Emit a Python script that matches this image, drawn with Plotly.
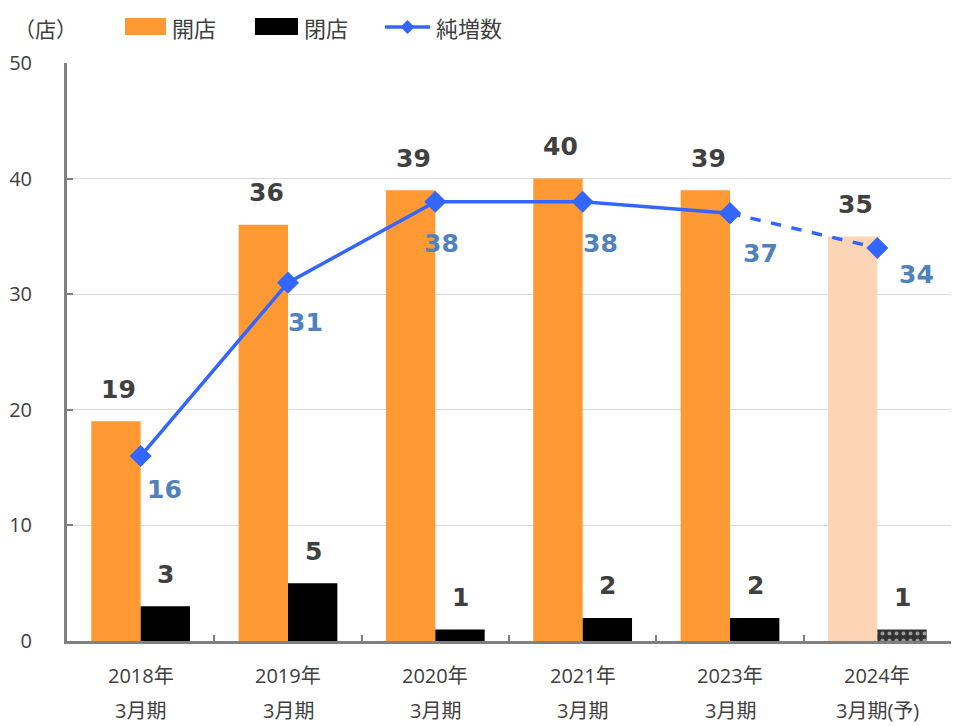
import plotly.graph_objects as go

categories = ["2018年3月期", "2019年3月期", "2020年3月期", "2021年3月期", "2023年3月期", "2024年3月期(予)"]
tick_line1 = ["2018年", "2019年", "2020年", "2021年", "2023年", "2024年"]
tick_line2 = ["3月期", "3月期", "3月期", "3月期", "3月期", "3月期(予)"]
openings = [19, 36, 39, 40, 39, 35]
closings = [3, 5, 1, 2, 2, 1]
net_increase = [16, 31, 38, 38, 37, 34]
forecast_flag = [False, False, False, False, False, True]
unit_label = "（店）"
legend_names = ["開店", "閉店", "純増数"]

# label offsets (styling) for net-increase labels, in px
net_dx = [24, 17, 6, 18, 30, 39]
net_dy = [-33, -40, -42, -42, -40, -27]

ORANGE = "#FF9933"
ORANGE_LIGHT = "#FBD5B5"
BLUE = "#3366FF"
BLUE_TXT = "#4F81BD"
DARK = "#404040"
BOLD_FONT = "DejaVu Sans, Noto Sans CJK JP, sans-serif"
TICK_FONT = "Open Sans, Noto Sans CJK JP, sans-serif"
CJK = "Noto Sans CJK JP, Open Sans, sans-serif"

W, H = 953, 726
ML, MR, MT, MB = 67, 2, 63, 85


def px_x(p):
    return (p - ML) / (W - ML - MR)


def px_y(p):
    return 1 - (p - MT) / (H - MT - MB)


fig = go.Figure()

fig.add_trace(go.Bar(
    x=categories, y=openings, name=legend_names[0],
    marker=dict(color=[ORANGE_LIGHT if f else ORANGE for f in forecast_flag], line=dict(width=0)),
    showlegend=False,
))
fig.add_trace(go.Bar(
    x=categories, y=closings, name=legend_names[1],
    marker=dict(
        color=["#333333" if f else "#000000" for f in forecast_flag],
        line=dict(width=0),
        pattern=dict(shape=["." if f else "" for f in forecast_flag],
                     fgcolor="white", bgcolor="#333333", size=7, solidity=0.25,
                     fillmode="overlay"),
    ),
    showlegend=False,
))

actual_idx = [i for i, f in enumerate(forecast_flag) if not f]
last_actual = actual_idx[-1]
fig.add_trace(go.Scatter(
    x=categories[:last_actual + 1], y=net_increase[:last_actual + 1], mode="lines+markers",
    name=legend_names[2],
    line=dict(color=BLUE, width=3.5),
    marker=dict(symbol="diamond", size=17, color=BLUE),
    showlegend=False, cliponaxis=False,
))
fig.add_trace(go.Scatter(
    x=categories[last_actual:], y=net_increase[last_actual:], mode="lines+markers",
    line=dict(color=BLUE, width=3.5, dash="dash"),
    marker=dict(symbol="diamond", size=17, color=BLUE),
    showlegend=False, cliponaxis=False,
))

annotations = []
for i, c in enumerate(categories):
    annotations.append(dict(x=c, y=openings[i], xref="x", yref="y", text=str(openings[i]),
                            showarrow=False, xshift=-22, yshift=32, yanchor="middle",
                            font=dict(family=BOLD_FONT, size=25, color=DARK, weight="bold")))
    annotations.append(dict(x=c, y=closings[i], xref="x", yref="y", text=str(closings[i]),
                            showarrow=False, xshift=25, yshift=32, yanchor="middle",
                            font=dict(family=BOLD_FONT, size=25, color=DARK, weight="bold")))
    annotations.append(dict(x=c, y=net_increase[i], xref="x", yref="y", text=str(net_increase[i]),
                            showarrow=False, xshift=net_dx[i], yshift=net_dy[i], yanchor="middle",
                            font=dict(family=BOLD_FONT, size=25, color=BLUE_TXT, weight="bold")))
    annotations.append(dict(x=c, y=0, xref="x", yref="paper", text=tick_line1[i],
                            showarrow=False, yshift=-34, yanchor="middle",
                            font=dict(family=TICK_FONT, size=20, color=DARK)))
    annotations.append(dict(x=c, y=0, xref="x", yref="paper", text=tick_line2[i],
                            showarrow=False, yshift=-69, yanchor="middle",
                            font=dict(family=TICK_FONT, size=20, color=DARK)))

annotations.append(dict(x=px_x(45), y=px_y(28), xref="paper", yref="paper", text=unit_label,
                        showarrow=False, xanchor="center", yanchor="middle",
                        font=dict(family=CJK, size=21, color=DARK)))

legend_geom = [("rect", ORANGE, 125, 166), ("rect", "#000000", 255, 298), ("line", BLUE, 385, 430)]
shapes = []
for name, (kind, col, x0, x1) in zip(legend_names, legend_geom):
    if kind == "rect":
        shapes.append(dict(type="rect", xref="paper", yref="paper", x0=px_x(x0), x1=px_x(x1),
                           y0=px_y(35), y1=px_y(18), fillcolor=col, line=dict(width=0)))
    else:
        shapes.append(dict(type="line", xref="paper", yref="paper", x0=px_x(x0), x1=px_x(x1),
                           y0=px_y(27), y1=px_y(27), line=dict(color=col, width=3.5)))
        xc = (x0 + x1) / 2
        shapes.append(dict(type="path", xref="paper", yref="paper",
                           path=f"M {px_x(xc-7)},{px_y(27)} L {px_x(xc)},{px_y(20)} L {px_x(xc+7)},{px_y(27)} L {px_x(xc)},{px_y(34)} Z",
                           fillcolor=col, line=dict(width=0)))
    annotations.append(dict(x=px_x(x1 + 4), y=px_y(27), xref="paper", yref="paper", text=name,
                            showarrow=False, xanchor="left", yanchor="middle",
                            font=dict(family=CJK, size=22, color=DARK)))

fig.update_layout(
    width=W, height=H,
    margin=dict(l=ML, r=MR, t=MT, b=MB),
    plot_bgcolor="white", paper_bgcolor="white",
    barmode="group", bargap=0.33, bargroupgap=0,
    shapes=shapes, annotations=annotations,
    xaxis=dict(showticklabels=False, ticks="inside", tickson="boundaries", ticklen=6, tickwidth=2,
               tickcolor="#808080", showline=True, linecolor="#808080", linewidth=3, showgrid=False),
    yaxis=dict(range=[0, 50], dtick=10, ticks="inside", ticklen=6, tickwidth=2, tickcolor="#808080",
               showline=True, linecolor="#808080", linewidth=3, showgrid=True, gridcolor="#D9D9D9",
               gridwidth=1, zeroline=False, ticklabelstandoff=28,
               tickfont=dict(family=TICK_FONT, size=20, color=DARK)),
)

fig.write_html("out.html", config={"displayModeBar": False},
               post_script="document.body.style.margin='0';document.body.style.overflow='hidden';")
